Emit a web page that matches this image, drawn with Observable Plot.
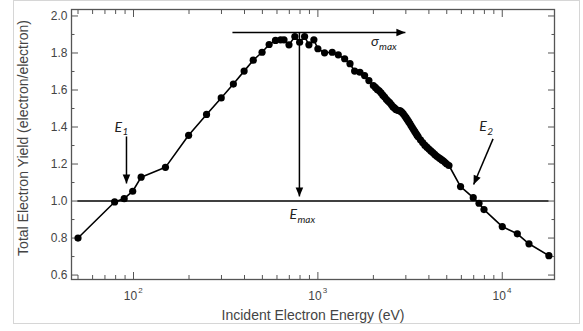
<!DOCTYPE html>
<html>
<head>
<meta charset="utf-8">
<script src="https://cdn.jsdelivr.net/npm/d3@7"></script>
<script src="https://cdn.jsdelivr.net/npm/@observablehq/plot@0.6"></script>
<style>
  html, body { margin: 0; padding: 0; background: #fff; }
  #wrap { position: relative; width: 583px; height: 331px; }
  #border { position: absolute; left: 13px; top: 0; width: 567px; height: 324px; box-sizing: border-box; border: 1px solid #d6d6d6; pointer-events: none; }
</style>
</head>
<body>
<div id="wrap"><div id="border"></div></div>
<script>
// Incident electron energy (eV)
const energy = [50, 79, 89, 99, 110, 149, 199, 249, 299, 348, 398, 446, 498, 544, 589, 628, 655, 697, 750, 796, 847, 894, 951, 1000, 1087, 1196, 1290, 1397, 1493, 1582, 1691, 1792, 1891, 1999,
  2050, 2100, 2150, 2200, 2250, 2300, 2350, 2400, 2450, 2500, 2550, 2600, 2650, 2700, 2750, 2800, 2850, 2900, 2950, 3000, 3050, 3100, 3150, 3200, 3250, 3300, 3350, 3400, 3450, 3500,
  3600, 3700, 3800, 3900, 4000, 4100, 4200, 4300, 4400, 4500, 4600, 4700, 4800, 4900, 5000, 5140,
  5940, 6960, 7480, 7960, 10000, 12070, 13960, 17900];
// Total electron yield (electron/electron)
const yieldTot = [0.80, 0.995, 1.013, 1.053, 1.129, 1.182, 1.355, 1.468, 1.557, 1.632, 1.702, 1.761, 1.804, 1.846, 1.868, 1.871, 1.871, 1.844, 1.889, 1.858, 1.889, 1.844, 1.871, 1.823, 1.801, 1.804, 1.790, 1.769, 1.742, 1.702, 1.696, 1.678, 1.651, 1.624,
  1.614, 1.603, 1.596, 1.585, 1.572, 1.562, 1.550, 1.540, 1.532, 1.521, 1.510, 1.503, 1.495, 1.490, 1.489, 1.487, 1.480, 1.472, 1.462, 1.452, 1.441, 1.430, 1.420, 1.408, 1.397, 1.386, 1.376, 1.366, 1.356, 1.347,
  1.331, 1.316, 1.302, 1.291, 1.281, 1.271, 1.262, 1.252, 1.243, 1.236, 1.229, 1.222, 1.216, 1.208, 1.200, 1.192,
  1.078, 1.018, 0.988, 0.954, 0.862, 0.823, 0.769, 0.705];

// Axis ticks
const yMajor = [0.6, 0.8, 1.0, 1.2, 1.4, 1.6, 1.8, 2.0];
const yMinor = [0.7, 0.9, 1.1, 1.3, 1.5, 1.7, 1.9];
const xMajor = [100, 1000, 10000];
const xMinor = [50, 60, 70, 80, 90, 200, 300, 400, 500, 600, 700, 800, 900, 2000, 3000, 4000, 5000, 6000, 7000, 8000, 9000];
const xTickBase = ["10", "10", "10"];
const xTickExp = ["2", "3", "4"];

// Reference line (yield = 1)
const refLineY = [1.0];
const refLineX = [50, 17900];

// Annotation arrows (data coordinates) and their head directions
const arrowX1 = [344, 794, 91.6, 8912];
const arrowY1 = [1.911, 1.911, 1.349, 1.336];
const arrowX2 = [2982, 794, 91.6, 6995];
const arrowY2 = [1.911, 1.025, 1.095, 1.089];
const arrowAngle = [90, 180, 180, 203];

// Annotation labels
const labelMain = ["σ", "E", "E", "E"];
const labelSub = ["max", "max", "1", "2"];
const labelX = [1943, 701, 78.9, 7512];
const labelY = [1.862, 0.927, 1.399, 1.403];

const data = energy.map((e, i) => ({e, y: yieldTot[i]}));
const arrows = arrowX1.map((x1, i) => ({x1, y1: arrowY1[i], x2: arrowX2[i], y2: arrowY2[i], a: arrowAngle[i]}));
const labels = labelMain.map((m, i) => ({m, s: labelSub[i], x: labelX[i], y: labelY[i]}));
const xTicks = xMajor.map((v, i) => ({v, b: xTickBase[i], p: xTickExp[i]}));

const headShape = {
  draw(ctx, l, r) {
    ctx.moveTo(0, -l);
    ctx.lineTo(r, 0);
    ctx.lineTo(-r, 0);
    ctx.closePath();
  }
};

const axisColor = "#555";
const textColor = "#444";
const noText = () => "";
const annoFont = "Lato, 'Open Sans', sans-serif";

const chart = Plot.plot({
  width: 583,
  height: 331,
  marginLeft: 71,
  marginRight: 29,
  marginTop: 9,
  marginBottom: 52,
  style: {fontFamily: "'Liberation Sans', Arial, sans-serif", fontSize: "12px", background: "#fff", overflow: "visible"},
  x: {type: "log", domain: [46.1, 19200], axis: null},
  y: {domain: [0.576, 2.035], axis: null},
  marks: [
    // inward ticks, all four sides
    Plot.axisY(yMajor, {anchor: "left", tickSize: -7, tickFormat: noText, label: null, stroke: axisColor}),
    Plot.axisY(yMinor, {anchor: "left", tickSize: -3.5, tickFormat: noText, label: null, stroke: axisColor}),
    Plot.axisY(yMajor, {anchor: "right", tickSize: -7, tickFormat: noText, label: null, stroke: axisColor}),
    Plot.axisY(yMinor, {anchor: "right", tickSize: -3.5, tickFormat: noText, label: null, stroke: axisColor}),
    Plot.axisX(xMajor, {anchor: "bottom", tickSize: -7, tickFormat: noText, label: null, stroke: axisColor}),
    Plot.axisX(xMinor, {anchor: "bottom", tickSize: -4, tickFormat: noText, label: null, stroke: axisColor}),
    Plot.axisX(xMajor, {anchor: "top", tickSize: -7, tickFormat: noText, label: null, stroke: axisColor}),
    Plot.axisX(xMinor, {anchor: "top", tickSize: -4, tickFormat: noText, label: null, stroke: axisColor}),
    // y tick labels
    Plot.axisY(yMajor, {anchor: "left", tickSize: 0, tickPadding: 4, tickFormat: d3.format(".1f"), label: null, fontSize: 12, fill: textColor}),
    // x tick labels 10^n
    Plot.text(xTicks, {x: "v", text: "b", frameAnchor: "bottom", dy: 20, dx: -3, fontSize: 12, fill: textColor}),
    Plot.text(xTicks, {x: "v", text: "p", frameAnchor: "bottom", dy: 13, dx: 7, fontSize: 8, fill: textColor}),
    // axis titles
    Plot.text(["Incident Electron Energy (eV)"], {frameAnchor: "bottom", dy: 40, fontSize: 14, fill: textColor}),
    Plot.text(["Total Electron Yield (electron/electron)"], {frameAnchor: "left", textAnchor: "middle", dx: -48, dy: -6.5, rotate: -90, fontSize: 14, fill: textColor}),
    Plot.frame({stroke: axisColor, strokeWidth: 1.3}),
    // reference line
    Plot.ruleY(refLineY, {x1: refLineX[0], x2: refLineX[1], stroke: "black", strokeWidth: 1.5}),
    // data
    Plot.line(data, {x: "e", y: "y", stroke: "black", strokeWidth: 1.6}),
    Plot.dot(data, {x: "e", y: "y", r: 3.6, fill: "black", stroke: "none"}),
    // annotation arrows
    Plot.link(arrows, {x1: "x1", y1: "y1", x2: "x2", y2: "y2", stroke: "black", strokeWidth: 1.5}),
    Plot.vector(arrows, {x: "x2", y: "y2", rotate: "a", length: 9, r: 3.8, anchor: "end", shape: headShape, fill: "black", stroke: "none"}),
    // annotation labels
    Plot.text(labels, {x: "x", y: "y", text: "m", textAnchor: "start", fontSize: 14, fontStyle: "italic", fontFamily: annoFont, fill: "#222"}),
    Plot.text(labels, {x: "x", y: "y", text: "s", textAnchor: "start", dx: 8, dy: 5, fontSize: 10, fontStyle: "italic", fontFamily: annoFont, fill: "#222"})
  ]
});
document.getElementById("wrap").prepend(chart);
</script>
</body>
</html>
